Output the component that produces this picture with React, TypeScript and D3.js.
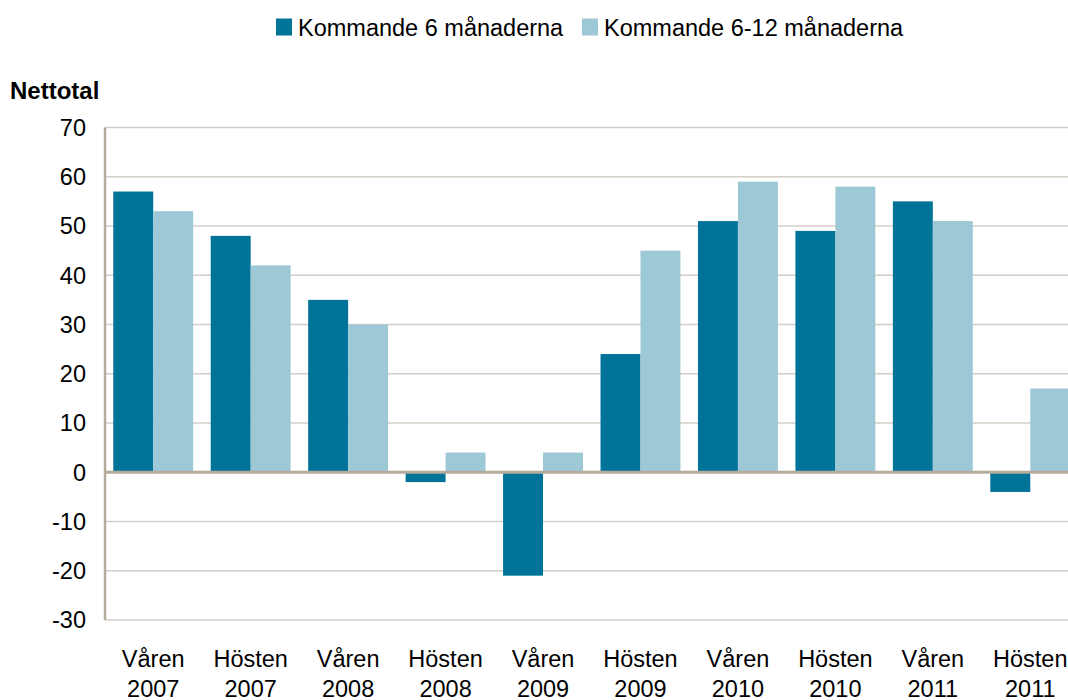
import React, { useEffect, useRef } from 'react';
import * as d3 from 'd3';

const categories = [
  ['Våren', '2007'], ['Hösten', '2007'], ['Våren', '2008'], ['Hösten', '2008'], ['Våren', '2009'],
  ['Hösten', '2009'], ['Våren', '2010'], ['Hösten', '2010'], ['Våren', '2011'], ['Hösten', '2011'],
];
const seriesNames = ['Kommande 6 månaderna', 'Kommande 6-12 månaderna'];
const next6 = [57, 48, 35, -2, -21, 24, 51, 49, 55, -4];
const next6to12 = [53, 42, 30, 4, 4, 45, 59, 58, 51, 17];
const yTicks = [70, 60, 50, 40, 30, 20, 10, 0, -10, -20, -30];

const colors = ['#007398', '#9dc8d5'];
const width = 1068;
const height = 700;

export default function App() {
  const ref = useRef<SVGSVGElement>(null);

  useEffect(() => {
    const svg = d3.select(ref.current);
    svg.selectAll('*').remove();

    const font = '"Liberation Sans", Arial, sans-serif';
    const labels = categories.map((c) => c.join(' '));

    // the plot runs slightly past the right edge, as in the original
    const x = d3.scaleBand()
      .domain(labels)
      .range([104.5, 1079])
      .paddingInner(0.18)
      .paddingOuter(0.09);
    const x1 = d3.scaleBand().domain(['0', '1']).range([0, x.bandwidth()]);
    const y = d3.scaleLinear().domain([-30, 70]).range([620, 127.5]);

    // gridlines
    svg.append('g')
      .selectAll('line')
      .data(yTicks.filter((t) => t !== 0))
      .enter()
      .append('line')
      .attr('x1', 105)
      .attr('x2', width)
      .attr('y1', (d) => y(d))
      .attr('y2', (d) => y(d))
      .style('stroke', '#d3cec6')
      .style('stroke-width', 1.5);

    // bars
    const data = [next6, next6to12];
    data.forEach((values, s) => {
      svg.append('g')
        .selectAll('rect')
        .data(values)
        .enter()
        .append('rect')
        .attr('x', (_, i) => (x(labels[i]) as number) + (x1(String(s)) as number))
        .attr('width', x1.bandwidth())
        .attr('y', (d) => y(Math.max(0, d)))
        .attr('height', (d) => Math.abs(y(d) - y(0)))
        .style('fill', colors[s]);
    });

    // zero line and y axis
    svg.append('line')
      .attr('x1', 105).attr('x2', width)
      .attr('y1', y(0)).attr('y2', y(0))
      .style('stroke', '#b5ab9d').style('stroke-width', 3);
    svg.append('line')
      .attr('x1', 105).attr('x2', 105)
      .attr('y1', y(70)).attr('y2', y(-30))
      .style('stroke', '#b5ab9d').style('stroke-width', 2.5);

    // y tick labels
    svg.append('g')
      .selectAll('text')
      .data(yTicks)
      .enter()
      .append('text')
      .attr('x', 86)
      .attr('y', (d) => y(d))
      .attr('dy', '0.36em')
      .attr('text-anchor', 'end')
      .style('font-family', font)
      .style('font-size', '23.5px')
      .style('fill', '#000')
      .text((d) => d);

    // x labels, two lines each
    const xl = svg.append('g')
      .selectAll('text')
      .data(categories)
      .enter()
      .append('text')
      .attr('text-anchor', 'middle')
      .style('font-family', font)
      .style('font-size', '23.5px')
      .style('fill', '#000');
    xl.append('tspan')
      .attr('x', (_, i) => (x(labels[i]) as number) + x.bandwidth() / 2)
      .attr('y', 667)
      .text((d) => d[0]);
    xl.append('tspan')
      .attr('x', (_, i) => (x(labels[i]) as number) + x.bandwidth() / 2)
      .attr('y', 697)
      .text((d) => d[1]);

    // y title
    svg.append('text')
      .attr('x', 10)
      .attr('y', 99)
      .style('font-family', font)
      .style('font-size', '24px')
      .style('font-weight', 'bold')
      .text('Nettotal');

    // legend
    const legendX = [276, 582];
    seriesNames.forEach((name, i) => {
      svg.append('rect')
        .attr('x', legendX[i]).attr('y', 18.5)
        .attr('width', 16).attr('height', 17)
        .style('fill', colors[i]);
      svg.append('text')
        .attr('x', legendX[i] + 22)
        .attr('y', 36)
        .style('font-family', font)
        .style('font-size', '23.5px')
        .text(name);
    });
  }, []);

  return (
    <svg
      ref={ref}
      width={width}
      height={height}
      style={{ position: 'absolute', left: 0, top: 0, background: '#fff', overflow: 'hidden' }}
    />
  );
}
